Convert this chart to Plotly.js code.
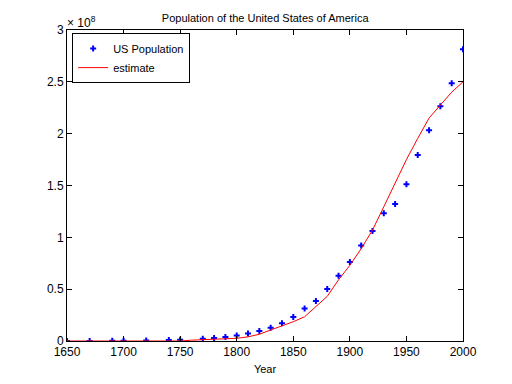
<!DOCTYPE html>
<html><head><meta charset="utf-8">
<script src="https://cdn.plot.ly/plotly-3.0.1.min.js"></script>
<style>html,body{margin:0;padding:0;background:#fff}#c{width:512px;height:384px}</style>
</head><body><div id="c"></div>
<script>
const years = [1650,1670,1690,1700,1720,1740,1750,1770,1780,1790,1800,1810,1820,1830,1840,1850,1860,1870,1880,1890,1900,1910,1920,1930,1940,1950,1960,1970,1980,1990,2000];
const population = [50368,111935,210372,250888,466185,905563,1170760,2148076,2780369,3929214,5308483,7239881,9638453,12866020,17069453,23191876,31443321,38558371,50189209,62979766,76212168,92228496,106021537,123202624,132164569,151325798,179323175,203302031,226542199,248709873,281421906];
const estYears = [1650,1700,1750,1760,1770,1780,1790,1800,1810,1820,1830,1840,1850,1860,1870,1880,1890,1900,1910,1920,1930,1940,1950,1960,1970,1980,1990,2000];
const estimate = [0,0,0,0.8e6,1.2e6,1.6e6,2.0e6,2.6e6,4.0e6,6.5e6,10.6e6,14.5e6,18.6e6,23.4e6,33e6,43e6,59e6,73e6,89e6,107e6,129.5e6,152e6,175e6,195.5e6,215e6,227.6e6,240e6,250e6];
const xTicks = [1650,1700,1750,1800,1850,1900,1950,2000];
const yTicks = [0,0.5e8,1e8,1.5e8,2e8,2.5e8,3e8];
const yTickText = ['0','0.5','1','1.5','2','2.5','3'];

const font = {family:'Liberation Sans, Arial, sans-serif', size:11, color:'#000'};
Plotly.newPlot('c', [
  {x:years, y:population, type:'scatter', mode:'markers', name:'US Population',
   marker:{symbol:'cross', size:5, color:'#0000ff'}},
  {x:estYears, y:estimate, type:'scatter', mode:'lines', name:'estimate',
   line:{color:'#ff0000', width:1}}
], {
  width:512, height:384,
  margin:{l:67, r:49, t:30, b:43},
  paper_bgcolor:'#fff', plot_bgcolor:'#fff',
  font:font,
  title:{text:'Population of the United States of America', font:{family:font.family, size:11, color:'#000'}, x:0.518, xanchor:'center', y:0.952, yanchor:'middle'},
  xaxis:{range:[1650,2000], tickvals:xTicks, ticks:'inside', ticklen:5, tickcolor:'#000',
    showline:true, linecolor:'#000', linewidth:1, mirror:'ticks', showgrid:false, zeroline:false,
    tickfont:{family:font.family, size:12, color:'#000'},
    title:{text:'Year', font:{family:font.family, size:11, color:'#000'}, standoff:6}},
  yaxis:{range:[0,3e8], tickvals:yTicks, ticktext:yTickText, ticks:'inside', ticklen:5, tickcolor:'#000',
    showline:true, linecolor:'#000', linewidth:1, mirror:'ticks', showgrid:false, zeroline:false,
    tickfont:{family:font.family, size:12, color:'#000'}},
  showlegend:true,
  legend:{x:0.013, y:0.99, xanchor:'left', yanchor:'top', bordercolor:'#000', borderwidth:1, bgcolor:'#fff',
    font:{family:font.family, size:11, color:'#000'}, tracegroupgap:0, itemwidth:30},
  annotations:[{xref:'paper', yref:'paper', x:0, y:1, xanchor:'left', yanchor:'bottom', showarrow:false,
    text:'× 10<sup>8</sup>', font:{family:font.family, size:12, color:'#000'}, xshift:-2, yshift:-2}]
}, {displayModeBar:false, staticPlot:true});
</script></body></html>
